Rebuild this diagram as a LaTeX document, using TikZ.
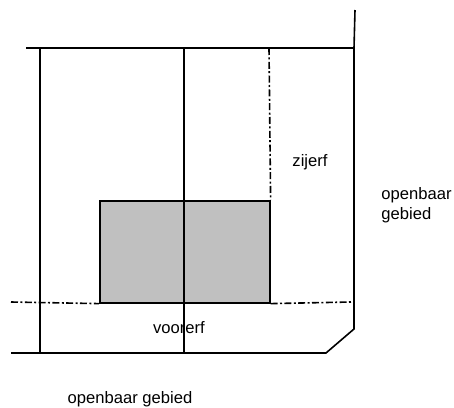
\documentclass[tikz,border=0pt]{standalone}
\usepackage{fontspec}
\setmainfont{Liberation Sans}
\usetikzlibrary{positioning}

\tikzset{
  grens/.style={line width=0.8pt},
  dashdot/.style={line width=0.8pt, dash pattern=on 3.5pt off 1.2pt on 1pt off 1.2pt},
  label/.style={draw=none, font=\fontsize{8.3}{10}\selectfont, inner sep=0pt},
}

\begin{document}
\begin{tikzpicture}[x=0.5pt, y=-0.5pt]
	\useasboundingbox (0,0) rectangle (454,407);
	% corners of the plot
	\coordinate (tl) at (26,48);
	\coordinate (tr) at (354,48);
	\coordinate (tt) at (355,10);
	\coordinate (rb) at (354,329);
	\coordinate (bc) at (326,353);
	\coordinate (bl) at (11,353);
	\coordinate (l1) at (40,48);
	\coordinate (l2) at (40,353);
	\coordinate (m1) at (184,48);
	\coordinate (m2) at (184,353);
	\coordinate (z1) at (269,48);
	\coordinate (v1) at (11,302);
	\coordinate (v2) at (351,302);
	% building
	\node[draw, grens, fill={rgb,255:red,192;green,192;blue,192}, minimum width=85pt, minimum height=51pt, inner sep=0pt, anchor=north west] (huis) at (99,200) {};
	% labels
	\node[label] (zijerf) at (310,162) {zijerf};
	\node[label, align=left, anchor=west] (opz) at (381,205) {openbaar\\gebied};
	\node[label] (voorerf) at (179,328) {voorerf};
	\node[label] (opv) at (130,399) {openbaar gebied};
	% lines
	\draw[grens] (tl) -- (tr) -- (rb) -- (bc) -- (bl);
	\draw[grens] (tt) -- (tr);
	\draw[grens] (l1) -- (l2);
	\draw[grens] (m1) -- (m2);
	\draw[dashdot] (z1) -- (huis.north east);
	\draw[dashdot] (v1) -- (huis.south west);
	\draw[dashdot] (huis.south east) -- (v2);
\end{tikzpicture}
\end{document}
